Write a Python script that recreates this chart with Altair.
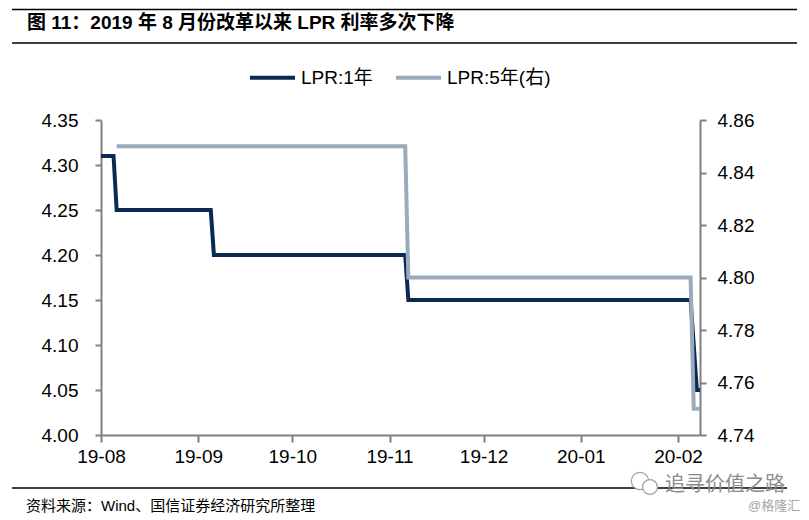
import altair as alt
import pandas as pd

# ---- data ----
one_year_dates = ["2019-08-01", "2019-08-05", "2019-08-06", "2019-09-05", "2019-09-06",
                  "2019-11-06", "2019-11-07", "2020-02-05", "2020-02-07", "2020-02-08"]
one_year_rates = [4.31, 4.31, 4.25, 4.25, 4.20, 4.20, 4.15, 4.15, 4.05, 4.05]

five_year_dates = ["2019-08-06", "2019-11-06", "2019-11-07", "2020-02-05", "2020-02-06", "2020-02-08"]
five_year_rates = [4.85, 4.85, 4.80, 4.80, 4.75, 4.75]

series_names = ["LPR:1年", "LPR:5年(右)"]
series_colors = ["#0B2A52", "#9AABBD"]

left_ticks = [4.00, 4.05, 4.10, 4.15, 4.20, 4.25, 4.30, 4.35]
right_ticks = [4.74, 4.76, 4.78, 4.80, 4.82, 4.84, 4.86]
month_ticks = [(2019, 8), (2019, 9), (2019, 10), (2019, 11), (2019, 12), (2020, 1), (2020, 2)]

title_text = "图 11：2019 年 8 月份改革以来 LPR 利率多次下降"
source_text = "资料来源：Wind、国信证券经济研究所整理"
watermark_text = "追寻价值之路"
credit_text = "@格隆汇"

FONT = "Liberation Sans, Arial, Noto Sans CJK SC"

df1 = pd.DataFrame({"date": pd.to_datetime(one_year_dates), "rate": one_year_rates, "series": series_names[0]})
df5 = pd.DataFrame({"date": pd.to_datetime(five_year_dates), "rate": five_year_rates, "series": series_names[1]})

W, H = 599, 315

x_enc = alt.X(
    "date:T",
    scale=alt.Scale(domain=[alt.DateTime(year=2019, month=8, date=1),
                            alt.DateTime(year=2020, month=2, date=8)]),
    axis=alt.Axis(
        title=None, grid=False, format="%y-%m",
        values=[alt.DateTime(year=y, month=m, date=1) for y, m in month_ticks],
        labelFontSize=19, labelFont=FONT, labelColor="black", labelPadding=5,
        tickSize=7, tickColor="#808080", tickWidth=2,
        domainColor="#808080", domainWidth=2, labelFlush=False,
    ),
)

color_enc = alt.Color(
    "series:N",
    scale=alt.Scale(domain=series_names, range=series_colors),
    legend=alt.Legend(
        orient="none", legendX=147, legendY=-67, direction="horizontal", title=None,
        symbolType="stroke", symbolSize=2025, symbolStrokeWidth=4,
        labelFontSize=19, labelFont=FONT, labelColor="black", labelOffset=4,
        columnPadding=15, padding=0,
    ),
)

line1 = alt.Chart(df1).mark_line(strokeWidth=4, interpolate="linear").encode(
    x=x_enc,
    y=alt.Y("rate:Q",
            scale=alt.Scale(domain=[4.0, 4.35], zero=False, nice=False),
            axis=alt.Axis(orient="left", title=None, grid=False, values=left_ticks, format=".2f",
                          labelFontSize=19, labelFont=FONT, labelColor="black", labelPadding=17,
                          tickSize=6, tickColor="#808080", tickWidth=2,
                          domainColor="#808080", domainWidth=2)),
    color=color_enc,
)

line5 = alt.Chart(df5).mark_line(strokeWidth=4, interpolate="linear").encode(
    x=x_enc,
    y=alt.Y("rate:Q",
            scale=alt.Scale(domain=[4.74, 4.86], zero=False, nice=False),
            axis=alt.Axis(orient="right", title=None, grid=False, values=right_ticks, format=".2f",
                          labelFontSize=19, labelFont=FONT, labelColor="black", labelPadding=11,
                          tickSize=6, tickColor="#808080", tickWidth=2,
                          domainColor="#808080", domainWidth=2)),
    color=color_enc,
)


def hline(key, x1, x2, y, width=1.5, color="black"):
    return alt.Chart(pd.DataFrame({"k": [key]})).mark_rule(color=color, strokeWidth=width).encode(
        x=alt.value(x1), x2=alt.value(x2), y=alt.value(y))


def label(text, x, y, size, color="black", weight="normal", align="left"):
    return alt.Chart(pd.DataFrame({"t": [text]})).mark_text(
        align=align, baseline="middle", fontSize=size, font=FONT, fontWeight=weight, color=color
    ).encode(text="t:N", x=alt.value(x), y=alt.value(y))


def ring(key, x, y, size):
    return alt.Chart(pd.DataFrame({"k": [key]})).mark_point(
        shape="circle", filled=True, fill="white", stroke="#a0a0a0", strokeWidth=1.2, opacity=1
    ).encode(x=alt.value(x), y=alt.value(y), size=alt.value(size))


decor = [
    hline("top", -89, 696, -110.5),
    hline("mid", -89, 696, -77),
    label(title_text, -74, -97, 19, weight="bold"),
    hline("foot", -89, 686, 368),
    label(source_text, -75, 386, 15),
    ring("r1", 539, 361, 300),
    ring("r2", 549, 367, 220),
    label(watermark_text, 564, 365, 20, color="#8c8c8c"),
    label(credit_text, 647, 386, 13, color="#a6a6a6"),
]

chart = alt.layer(line1, line5, *decor).resolve_scale(y="independent").properties(
    width=W, height=H,
    padding={"left": 93, "top": 112, "right": 100, "bottom": 81},
    autosize=alt.AutoSizeParams(type="none"),
).configure_view(stroke=None)

chart.save("out.html", embed_options={"renderer": "svg", "actions": False})
